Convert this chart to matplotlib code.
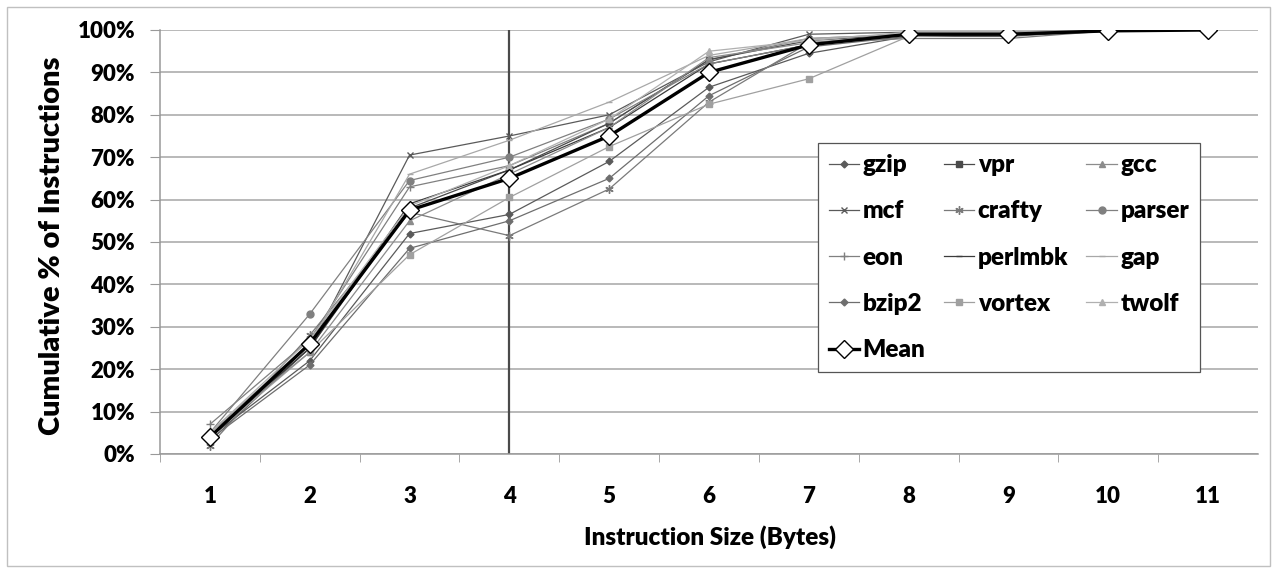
import matplotlib
matplotlib.use("Agg")
import matplotlib.pyplot as plt
from matplotlib.patches import Rectangle

plt.rcParams['font.family'] = ['Lato', 'DejaVu Sans']

sizes = [1, 2, 3, 4, 5, 6, 7, 8, 9, 10, 11]

# cumulative % of instructions per benchmark
gzip = [4, 22, 52, 56.5, 69, 86.5, 94.5, 98.5, 98.5, 99.8, 100]
vpr = [4, 25, 58, 67, 78, 93, 97.5, 99, 99, 100, 100]
gcc = [5, 24, 55, 66, 77, 93.5, 97, 99, 99, 100, 100]
mcf = [3, 25, 70.5, 75, 80, 92.5, 99, 99.5, 99.5, 100, 100]
crafty = [2, 28, 57, 51.5, 62.5, 83, 97, 98, 98, 99.8, 100]
parser = [5, 33, 64.5, 70, 79, 92, 96.5, 99, 99, 100, 100]
eon = [7, 27, 63, 68, 78, 93, 98, 99, 99, 100, 100]
perlmbk = [4, 25, 59, 67, 77, 92, 96.5, 99, 99, 100, 100]
gap = [5, 26, 66, 74, 83, 94, 98, 99, 99, 100, 100]
bzip2 = [3.5, 21, 48.5, 55, 65, 84.5, 96, 98.5, 99, 99.8, 100]
vortex = [4, 24, 47, 60.5, 72.5, 82.5, 88.5, 98.5, 99, 99.8, 100]
twolf = [5, 27, 58.5, 68, 79, 95, 97.5, 99.5, 99.5, 100, 100]
mean = [4, 26, 57.5, 65, 75, 90, 96.5, 99, 99, 99.8, 100]

# name, data, marker, colour, marker size
series = [
    ("gzip", gzip, "D", "#5a5a5a", 3.5),
    ("mcf", mcf, "x", "#5a5a5a", 5),
    ("eon", eon, "+", "#808080", 6),
    ("bzip2", bzip2, "D", "#6e6e6e", 3.5),
    ("vpr", vpr, "s", "#4a4a4a", 4),
    ("crafty", crafty, (6, 2, 0), "#7a7a7a", 6),
    ("perlmbk", perlmbk, "_", "#3c3c3c", 5),
    ("vortex", vortex, "s", "#a0a0a0", 5),
    ("gcc", gcc, "^", "#8c8c8c", 4.5),
    ("parser", parser, "o", "#808080", 5),
    ("gap", gap, "_", "#a8a8a8", 5),
    ("twolf", twolf, "^", "#b0b0b0", 4.5),
]

W = "heavy"

fig = plt.figure(figsize=(12.74, 5.69), dpi=100)
ax = fig.add_axes([160 / 1274, 1 - 454 / 569, 1098 / 1274, 424 / 569])

handles = {}
for name, vals, mk, col, ms in series:
    h, = ax.plot(sizes, vals, color=col, lw=0.9, marker=mk, ms=ms,
                 mec=col, mfc=col, mew=1, label=name, zorder=3)
    handles[name] = h

ax.axvline(4, color="#4a4a4a", lw=1.6, zorder=2)

hm, = ax.plot(sizes, mean, color="black", lw=2.4, marker="D", ms=9,
              mfc="white", mec="black", mew=1, label="Mean", zorder=5)
handles["Mean"] = hm

ax.set_xlim(0.5, 11.5)
ax.set_ylim(0, 100)
ax.set_xticks(sizes)
ax.set_xticks([x + 0.5 for x in range(0, 11)], minor=True)
ax.tick_params(axis="x", which="major", length=0, pad=23, labelsize=16)
ax.tick_params(axis="x", which="minor", length=6, color="#999999", direction="out")
ax.set_yticks(range(0, 101, 10))
ax.set_yticklabels([f"{v}%" for v in range(0, 101, 10)])
ax.tick_params(axis="y", length=7, color="#999999", pad=11, labelsize=16)
for lab in ax.get_xticklabels() + ax.get_yticklabels():
    lab.set_fontweight(W)

ax.grid(axis="y", color="#a6a6a6", lw=1.1)
ax.set_axisbelow(True)
for s in ["top", "right"]:
    ax.spines[s].set_visible(False)
ax.spines["left"].set_color("#999999")
ax.spines["bottom"].set_color("#999999")
ax.spines["left"].set_linewidth(1.1)
ax.spines["bottom"].set_linewidth(1.1)

fig.text(52 / 1274, 1 - 246 / 569, "Cumulative % of Instructions", rotation=90,
         ha="center", va="center", fontsize=21, fontweight=W)
fig.text(710 / 1274, 1 - 537 / 569, "Instruction Size (Bytes)",
         ha="center", va="center", fontsize=17.5, fontweight=W)

order = ["gzip", "mcf", "eon", "bzip2", "Mean",
         "vpr", "crafty", "perlmbk", "vortex",
         "gcc", "parser", "gap", "twolf"]
leg = ax.legend([handles[n] for n in order], order, ncol=3,
                loc="lower left", bbox_to_anchor=(0.599, 0.193),
                prop={"weight": W, "size": 17.5}, frameon=True,
                fancybox=False, framealpha=1, edgecolor="#555555",
                handlelength=1.25, handletextpad=0.15, columnspacing=0.75,
                labelspacing=1.0, borderpad=0.45, borderaxespad=0)
leg.get_frame().set_linewidth(0.9)
leg.set_zorder(10)

fig.patches.append(Rectangle((7 / 1274, 3 / 569), 1263 / 1274, 559 / 569,
                             transform=fig.transFigure, fill=False,
                             edgecolor="#c0c0c0", lw=1))

fig.savefig("out.png", dpi=100)
